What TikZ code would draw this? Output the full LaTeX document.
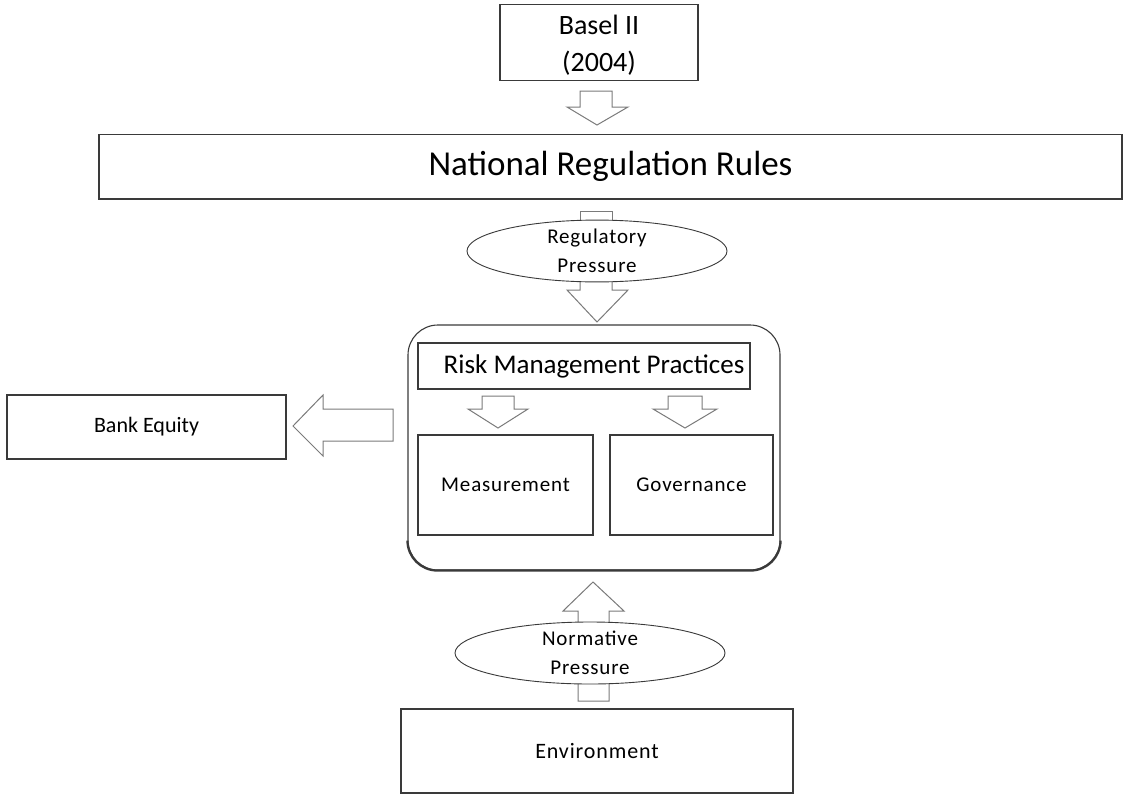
\documentclass[tikz,border=0pt]{standalone}
\usepackage{fontspec}
\setmainfont{Carlito}
\usetikzlibrary{shapes.geometric,calc}
\definecolor{edge}{HTML}{3A3A3A}
\definecolor{arrowgray}{HTML}{7A7A7A}
\tikzset{
  box/.style={draw=edge, line width=1.1pt, fill=white, rectangle, inner sep=0pt, align=center},
  oval/.style={draw=edge, line width=0.9pt, fill=white, ellipse, inner sep=0pt, align=center},
  blockarrow/.style={draw=arrowgray, line width=1pt, fill=white, line join=miter},
  shadowline/.style={draw=edge, line width=2.2pt}
}
\newcommand{\spaced}{\addfontfeature{LetterSpace=4}}
\begin{document}
\begin{tikzpicture}[x=1pt,y=-1pt]
\useasboundingbox (0,0) rectangle (1131,795);

% ---------- nodes ----------
\node[box, minimum width=198pt, minimum height=76pt,
      label={[align=center, font=\fontsize{28}{37}\selectfont, yshift=-3pt]center:Basel II\\(2004)}] (basel) at (599,42.5) {};
\node[box, minimum width=1023pt, minimum height=64pt, font=\fontsize{35}{38}\selectfont] (nat) at (610.5,166.5) {National Regulation Rules};
\draw[shadowline] (nat.south west) -- (nat.south east);

% shaft above regulatory ellipse (behind ellipse)
\draw[blockarrow] (580,240) -- (580,211) -- (612,211) -- (612,240);
% arrow below regulatory ellipse
\draw[blockarrow] (580,265) -- (580,290) -- (567,290) -- (597,322) -- (628,290) -- (612,290) -- (612,265);
\node[oval, minimum width=260pt, minimum height=57pt, font=\fontsize{21}{29}\selectfont\spaced] (reg) at (597,251) {Regulatory\\Pressure};

% big rounded box
\node[draw=edge, line width=1.1pt, rounded corners=30pt, minimum width=372pt, minimum height=245pt, inner sep=0pt] (rmbig) at (594,447.5) {};
\draw[shadowline, rounded corners=30pt] ($(rmbig.south west)+(0,-28)$) -- (rmbig.south west) -- (rmbig.south east) -- ($(rmbig.south east)+(0,-28)$);

\node[box, minimum width=332pt, minimum height=46pt,
      label={[font=\fontsize{27}{30}\selectfont, xshift=10pt]center:Risk Management Practices}] (rmp) at (584,366) {};
\node[box, minimum width=175pt, minimum height=100pt, font=\fontsize{21}{24}\selectfont\spaced] (meas) at (505.5,485) {Measurement};
\node[box, minimum width=163pt, minimum height=100pt, font=\fontsize{21}{24}\selectfont\spaced] (gov) at (691.5,485) {Governance};

\node[box, minimum width=279pt, minimum height=64pt, font=\fontsize{22}{24}\selectfont] (bank) at (146.5,427) {Bank Equity};
\draw[line width=1.6pt, draw=edge] (bank.south west) -- (bank.south east);

\node[box, minimum width=392pt, minimum height=84pt, font=\fontsize{22}{24}\selectfont\spaced] (env) at (597,751) {Environment};

% ---------- block arrows ----------
% Basel -> National
\draw[blockarrow] (580,91) -- (612,91) -- (612,107) -- (628,107) -- (597,125) -- (567,107) -- (580,107) -- cycle;
% RMP -> Measurement
\draw[blockarrow] (482,396) -- (514,396) -- (514,409) -- (528,409) -- (498,428) -- (468,409) -- (482,409) -- cycle;
% RMP -> Governance
\draw[blockarrow] (668,396) -- (702,396) -- (702,409) -- (717,409) -- (685,428) -- (653,409) -- (668,409) -- cycle;
% Risk box -> Bank Equity
\draw[blockarrow] (393,409) -- (393,441) -- (323,441) -- (323,456) -- (293,426) -- (323,395) -- (323,409) -- cycle;
% Environment -> Risk box (up)
\draw[blockarrow] (578,701) -- (578,611) -- (563,611) -- (593,582) -- (624,611) -- (609,611) -- (609,701) -- cycle;
\node[oval, minimum width=270pt, minimum height=62pt, font=\fontsize{21}{29}\selectfont\spaced] (norm) at (590,653) {Normative\\Pressure};
\end{tikzpicture}
\end{document}
